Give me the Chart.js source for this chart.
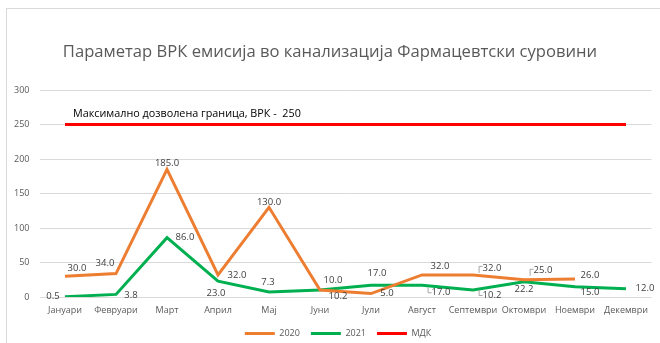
<!DOCTYPE html>
<html>
<head>
<meta charset="utf-8">
<script src="https://cdn.jsdelivr.net/npm/chart.js@4/dist/chart.umd.min.js"></script>
<style>
  html, body { margin: 0; padding: 0; background: #fff; }
  #wrap { position: relative; width: 660px; height: 343px; overflow: hidden; }
  #frame { position: absolute; left: 6px; top: 8px; width: 700px; height: 400px;
           border-top: 1px solid #d9d9d9; border-left: 1px solid #d9d9d9; }
  canvas { position: absolute; left: 0; top: 0; }
</style>
</head>
<body>
<div id="wrap">
  <div id="frame"></div>
  <canvas id="chart" width="660" height="343"></canvas>
</div>
<script>
// Monthly BPK emission values (mg/l) for the pharmaceutical raw materials plant
const months = ['Јануари', 'Февруари', 'Март', 'Април', 'Мај', 'Јуни',
                'Јули', 'Август', 'Септември', 'Октомври', 'Ноември', 'Декември'];
const bpk2020 = [30.0, 34.0, 185.0, 32.0, 130.0, 10.2, 5.0, 32.0, 32.0, 25.0, 26.0, null];
const bpk2021 = [0.5, 3.8, 86.0, 23.0, 7.3, 10.0, 17.0, 17.0, 10.2, 22.2, 15.0, 12.0];
const limitMDK = [250, 250, 250, 250, 250, 250, 250, 250, 250, 250, 250, 250];
const yTicks = [0, 50, 100, 150, 200, 250, 300];
const seriesNames = ['2020', '2021', 'МДК'];
const chartTitle = 'Параметар ВРК емисија во канализација Фармацевтски суровини';
const limitNote = 'Максимално дозволена граница, ВРК -  250';

const FONT = "'Open Sans', 'DejaVu Sans', sans-serif";
const GREY = '#595959';

// where each value label sits relative to its point: [dx, dy, callout]
const labelPlacement = {
  0: [[12, -8], [-11, -10], [0, -6], [19, 0], [0, -5], [18, 6],
      [16, 0], [18, -9], [19, -7, 'up'], [19, -9, 'up'], [15, -4], null],
  1: [[-12, 0], [15, 1], [18, 0], [-2, 12], [-1, -10], [13, -10],
      [6, -12], [19, 7, 'down'], [19, 5, 'down'], [0, 8], [15, 6], [19, 0]]
};

const valueLabels = {
  id: 'valueLabels',
  afterDatasetsDraw(chart) {
    const ctx = chart.ctx;
    ctx.save();
    ctx.font = `9.5px ${FONT}`;
    ctx.fillStyle = '#404040';
    ctx.textAlign = 'center';
    ctx.textBaseline = 'middle';
    [0, 1].forEach(di => {
      const meta = chart.getDatasetMeta(di);
      const vals = chart.data.datasets[di].data;
      meta.data.forEach((pt, j) => {
        const v = vals[j];
        const place = labelPlacement[di][j];
        if (v === null || v === undefined || !place) return;
        const tx = pt.x + place[0];
        const ty = pt.y + place[1];
        const txt = v.toFixed(1);
        ctx.fillText(txt, tx, ty);
        if (place[2]) {
          const w = ctx.measureText(txt).width;
          const lx = tx - w / 2 - 4;
          ctx.save();
          ctx.strokeStyle = '#a6a6a6';
          ctx.lineWidth = 1;
          ctx.beginPath();
          if (place[2] === 'up') {
            ctx.moveTo(lx + 0.5, ty + 5);
            ctx.lineTo(lx + 0.5, ty - 1.5);
            ctx.lineTo(lx + 4, ty - 1.5);
          } else {
            ctx.moveTo(lx + 0.5, ty - 5);
            ctx.lineTo(lx + 0.5, ty + 0.5);
            ctx.lineTo(lx + 4, ty + 0.5);
          }
          ctx.stroke();
          ctx.restore();
        }
      });
    });
    ctx.restore();
  }
};

const limitLabel = {
  id: 'limitLabel',
  afterDatasetsDraw(chart) {
    const ctx = chart.ctx;
    const x = chart.scales.x.getPixelForValue(0) + 8;
    const y = chart.scales.y.getPixelForValue(250) - 11;
    ctx.save();
    ctx.font = `10.8px ${FONT}`;
    ctx.fillStyle = '#000000';
    ctx.textAlign = 'left';
    ctx.textBaseline = 'middle';
    ctx.fillText(limitNote, x, y);
    ctx.restore();
  }
};

// the legend row sits a little right of the title's centre line
const legendShift = {
  id: 'legendShift',
  afterLayout(chart) {
    chart.legend.left += 8;
    chart.legend.right += 8;
  }
};

const seriesColors = ['#ED7D31', '#00B050', '#FF0000'];

new Chart(document.getElementById('chart'), {
  type: 'line',
  data: {
    labels: months,
    datasets: [bpk2020, bpk2021, limitMDK].map((d, i) => ({
      label: seriesNames[i],
      data: d,
      borderColor: seriesColors[i],
      backgroundColor: seriesColors[i],
      borderWidth: 3,
      pointRadius: 0,
      pointHoverRadius: 0,
      tension: 0,
      spanGaps: false
    }))
  },
  options: {
    responsive: false,
    devicePixelRatio: 1,
    animation: false,
    layout: { padding: { left: 8.5, right: 8.5, top: 0, bottom: 0 } },
    plugins: {
      title: {
        display: true,
        text: chartTitle,
        color: GREY,
        font: { family: FONT, size: 16.6, weight: 'normal', lineHeight: 1.2 },
        padding: { top: 42, bottom: 28.1 }
      },
      legend: {
        position: 'bottom',
        maxHeight: 25,
        labels: {
          usePointStyle: true,
          pointStyle: 'line',
          pointStyleWidth: 30,
          boxHeight: 9,
          color: GREY,
          font: { family: FONT, size: 9 },
          padding: 11
        }
      },
      tooltip: { enabled: false }
    },
    scales: {
      x: {
        offset: true,
        grid: { display: false, drawTicks: false },
        border: { display: false },
        ticks: { color: GREY, font: { family: FONT, size: 9 }, padding: 8, maxRotation: 0, autoSkip: false },
        afterFit(s) { s.height = 343 - 297 - s.chart.legend.height; }
      },
      y: {
        min: 0, max: 300,
        afterBuildTicks(s) { s.ticks = yTicks.map(v => ({ value: v })); },
        grid: { color: '#d9d9d9', lineWidth: 1, drawTicks: false },
        border: { display: false },
        ticks: { color: GREY, font: { family: FONT, size: 9 }, padding: 10 },
        afterFit(s) { s.width = 31; }
      }
    }
  },
  plugins: [valueLabels, limitLabel, legendShift]
});
</script>
</body>
</html>
